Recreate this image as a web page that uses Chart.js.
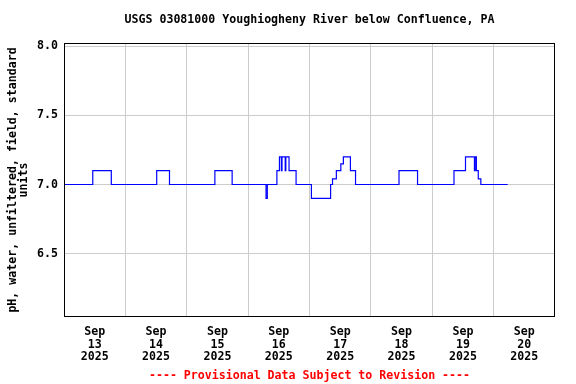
<!DOCTYPE html>
<html>
<head>
<meta charset="utf-8">
<script src="https://cdn.jsdelivr.net/npm/chart.js@4.4.1/dist/chart.umd.min.js"></script>
<style>
  html, body { margin: 0; padding: 0; background: #fff; }
</style>
</head>
<body>
<canvas id="phChart" width="576" height="384"></canvas>
<script>
/* ─── USGS pH chart ─────────────────────────────── */

// change points: value holds from this time until the next one
const readingTimes = [
  '2025-09-13T00:00', '2025-09-13T11:15', '2025-09-13T18:30',
  '2025-09-14T12:15', '2025-09-14T17:15',
  '2025-09-15T11:00', '2025-09-15T17:45',
  '2025-09-16T07:00', '2025-09-16T07:30', '2025-09-16T11:15', '2025-09-16T12:15',
  '2025-09-16T13:00', '2025-09-16T13:15', '2025-09-16T14:30', '2025-09-16T14:45',
  '2025-09-16T16:00', '2025-09-16T18:45',
  '2025-09-17T00:45', '2025-09-17T08:15', '2025-09-17T09:00', '2025-09-17T10:30',
  '2025-09-17T12:15', '2025-09-17T13:15', '2025-09-17T16:00', '2025-09-17T18:00',
  '2025-09-18T11:00', '2025-09-18T18:15',
  '2025-09-19T08:30', '2025-09-19T13:00', '2025-09-19T16:30', '2025-09-19T16:45',
  '2025-09-19T17:15', '2025-09-19T18:00', '2025-09-19T19:00',
  '2025-09-20T05:30'
];
const phValues = [
  7.0, 7.1, 7.0,
  7.1, 7.0,
  7.1, 7.0,
  6.9, 7.0, 7.1, 7.2,
  7.1, 7.2, 7.1, 7.2,
  7.1, 7.0,
  6.9, 7.0, 7.04, 7.1,
  7.15, 7.2, 7.1, 7.0,
  7.1, 7.0,
  7.1, 7.2, 7.1, 7.2,
  7.1, 7.04, 7.0,
  7.0
];

const dayLabels  = ['13', '14', '15', '16', '17', '18', '19', '20'];
const monthLabel = 'Sep';
const yearLabel  = '2025';
const yTicks     = [6.5, 7.0, 7.5, 8.0];

const START = Date.UTC(2025, 8, 13);
const HOURS = dayLabels.length * 24;

function hoursFromStart(s) {
  return (Date.parse(s + ':00Z') - START) / 3600000;
}

const points = readingTimes.map((t, i) => ({ x: hoursFromStart(t), y: phValues[i] }));

const FONT = { family: '"DejaVu Sans Mono", monospace', size: 11.6, weight: 'bold' };
const GRID = '#cccccc';

const frame = {
  id: 'frame',
  afterDraw(chart) {
    const { ctx, chartArea: a } = chart;
    ctx.save();
    ctx.strokeStyle = '#000';
    ctx.lineWidth = 1;
    ctx.strokeRect(Math.round(a.left) + 0.5, Math.round(a.top) + 0.5,
                   Math.round(a.right - a.left) - 1, Math.round(a.bottom - a.top));
    ctx.restore();
  }
};

new Chart(document.getElementById('phChart'), {
  type: 'line',
  data: {
    datasets: [{
      data: points,
      borderColor: '#0000ff',
      borderWidth: 1.2,
      pointRadius: 0,
      stepped: true,
      fill: false
    }]
  },
  options: {
    responsive: false,
    animation: false,
    layout: { padding: { left: 0, right: 21, top: 0, bottom: 0 } },
    scales: {
      x: {
        type: 'linear',
        min: 0,
        max: HOURS,
        afterBuildTicks: s => {
          const t = [];
          for (let h = 0; h <= HOURS; h += 12) t.push({ value: h });
          s.ticks = t;
        },
        afterFit: s => { s.height = 49.5; },
        border: { display: false },
        grid: {
          drawTicks: false,
          color: c => (c.tick && c.tick.value % 24 === 0 && c.tick.value > 0 && c.tick.value < HOURS) ? GRID : 'rgba(0,0,0,0)'
        },
        ticks: {
          autoSkip: false,
          maxRotation: 0,
          padding: 9,
          color: '#000',
          font: { ...FONT, lineHeight: 1.1 },
          callback: v => v % 24 === 12 ? [monthLabel, dayLabels[(v - 12) / 24], yearLabel] : ''
        }
      },
      y: {
        min: 6.043,
        max: 8.022,
        afterBuildTicks: s => { s.ticks = yTicks.map(v => ({ value: v })); },
        afterFit: s => { s.width = 64; },
        border: { display: false },
        grid: { drawTicks: false, color: GRID },
        ticks: {
          padding: 6,
          color: '#000',
          font: FONT,
          callback: v => v.toFixed(1)
        },
        title: {
          display: true,
          text: ['pH, water, unfiltered, field, standard', 'units'],
          color: '#000',
          font: { ...FONT, lineHeight: 0.95 },
          padding: { top: 7.5, bottom: 0 }
        }
      }
    },
    plugins: {
      legend: { display: false },
      tooltip: { enabled: false },
      title: {
        display: true,
        text: 'USGS 03081000 Youghiogheny River below Confluence, PA',
        fullSize: false,
        color: '#000',
        font: { ...FONT, lineHeight: 1.2 },
        padding: { top: 13, bottom: 16.5 }
      },
      subtitle: {
        display: true,
        position: 'bottom',
        text: '---- Provisional Data Subject to Revision ----',
        fullSize: false,
        color: '#ff0000',
        font: { ...FONT, lineHeight: 1.2 },
        padding: { top: 3, bottom: 1 }
      }
    }
  },
  plugins: [frame]
});
</script>
</body>
</html>
